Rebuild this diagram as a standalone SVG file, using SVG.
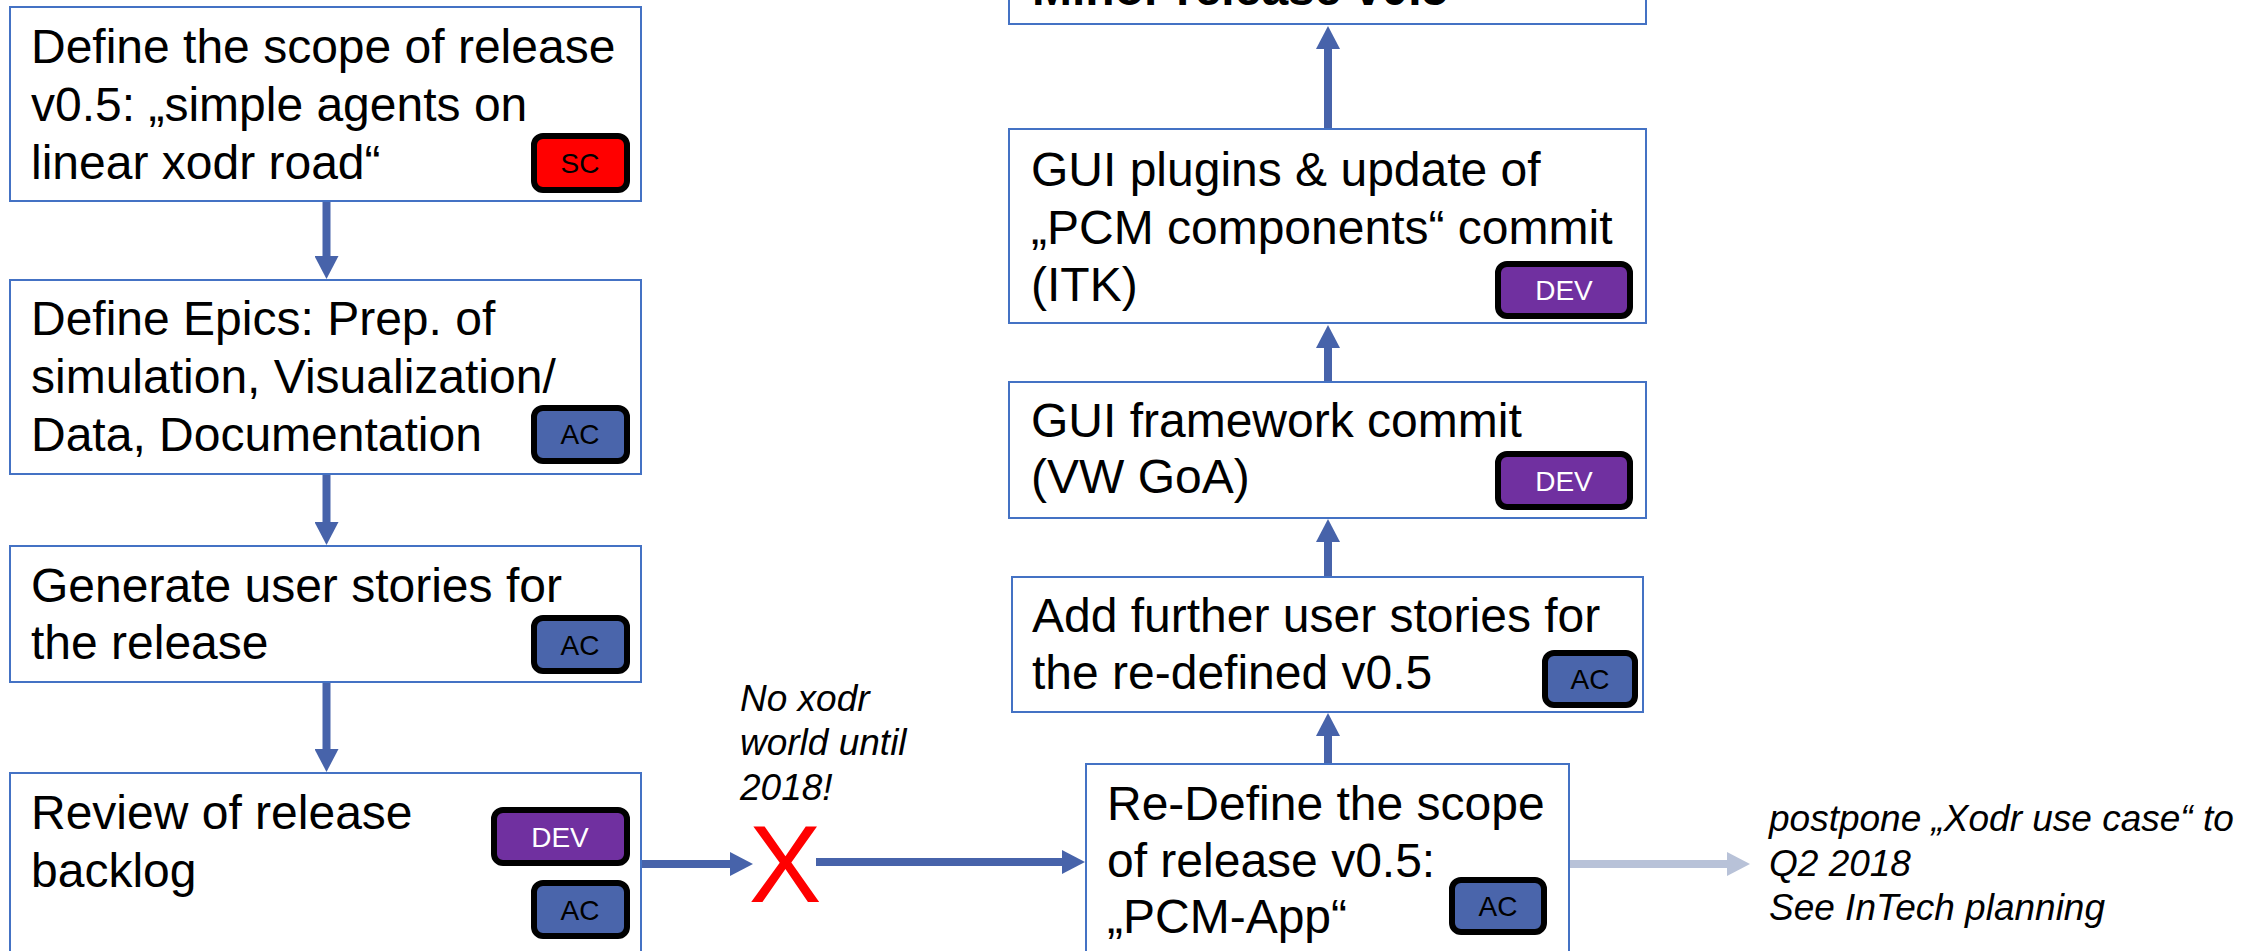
<svg xmlns="http://www.w3.org/2000/svg" width="2264" height="951" viewBox="0 0 2264 951">
<defs>
<style>
.box{fill:#fff;stroke:#4472C4;stroke-width:2}
.t{font-family:"Liberation Sans",Arial,sans-serif;font-size:48px;fill:#000}
.tb{font-family:"Liberation Sans",Arial,sans-serif;font-size:48px;font-weight:bold;fill:#000}
.it{font-family:"Liberation Sans",Arial,sans-serif;font-size:37px;font-style:italic;fill:#000}
.badge{stroke:#000;stroke-width:6}
.ac{fill:#4A65AB}
.dev{fill:#7030A0}
.sc{fill:#FF0000}
.bt{font-family:"Liberation Sans",Arial,sans-serif;font-size:28px;text-anchor:middle}
.conn{stroke:#4763AA;stroke-width:8;fill:none}
.gray{stroke:#B8C2D8;stroke-width:8;fill:none}
</style>
<marker id="ah" markerUnits="userSpaceOnUse" markerWidth="24" markerHeight="24" refX="3" refY="12" orient="auto" viewBox="0 0 24 24">
<path d="M0,0 L23,12 L0,24 z" fill="#4763AA"/>
</marker>
<marker id="ahg" markerUnits="userSpaceOnUse" markerWidth="24" markerHeight="24" refX="3" refY="12" orient="auto" viewBox="0 0 24 24">
<path d="M0,0 L23,12 L0,24 z" fill="#B8C2D8"/>
</marker>
</defs>
<rect width="2264" height="951" fill="#fff"/>

<g id="connectors">
<line class="conn" x1="326.5" y1="201" x2="326.5" y2="259" marker-end="url(#ah)"/>
<line class="conn" x1="326.5" y1="474" x2="326.5" y2="525" marker-end="url(#ah)"/>
<line class="conn" x1="326.5" y1="682" x2="326.5" y2="752" marker-end="url(#ah)"/>
<line class="conn" x1="641" y1="864" x2="733" y2="864" marker-end="url(#ah)"/>
<line class="conn" x1="816" y1="862" x2="1065" y2="862" marker-end="url(#ah)"/>
<line class="conn" x1="1328" y1="764" x2="1328" y2="733" marker-end="url(#ah)"/>
<line class="conn" x1="1328" y1="577" x2="1328" y2="539" marker-end="url(#ah)"/>
<line class="conn" x1="1328" y1="382" x2="1328" y2="345" marker-end="url(#ah)"/>
<line class="conn" x1="1328" y1="129" x2="1328" y2="46" marker-end="url(#ah)"/>
<line class="gray" x1="1569" y1="864" x2="1730" y2="864" marker-end="url(#ahg)"/>
</g>

<g id="node-scope">
<rect class="box" x="10" y="7" width="631" height="194"/>
<text class="t" x="31" y="63">Define the scope of release</text>
<text class="t" x="31" y="121">v0.5: „simple agents on</text>
<text class="t" x="31" y="179">linear xodr road“</text>
<rect class="badge sc" x="534" y="136" width="93" height="54" rx="9"/>
<text class="bt" x="580" y="173" fill="#000">SC</text>
</g>

<g id="node-epics">
<rect class="box" x="10" y="280" width="631" height="194"/>
<text class="t" x="31" y="335">Define Epics: Prep. of</text>
<text class="t" x="31" y="393">simulation, Visualization/</text>
<text class="t" x="31" y="451">Data, Documentation</text>
<rect class="badge ac" x="534" y="408" width="93" height="53" rx="9"/>
<text class="bt" x="580" y="444" fill="#000">AC</text>
</g>

<g id="node-stories">
<rect class="box" x="10" y="546" width="631" height="136"/>
<text class="t" x="31" y="602">Generate user stories for</text>
<text class="t" x="31" y="659">the release</text>
<rect class="badge ac" x="534" y="618" width="93" height="53" rx="9"/>
<text class="bt" x="580" y="655" fill="#000">AC</text>
</g>

<g id="node-review">
<rect class="box" x="10" y="773" width="631" height="200"/>
<text class="t" x="31" y="829">Review of release</text>
<text class="t" x="31" y="887">backlog</text>
<rect class="badge dev" x="494" y="810" width="133" height="53" rx="9"/>
<text class="bt" x="560" y="847" fill="#fff">DEV</text>
<rect class="badge ac" x="534" y="883" width="93" height="53" rx="9"/>
<text class="bt" x="580" y="920" fill="#000">AC</text>
</g>

<g id="node-x">
<text x="785" y="902" font-family="Liberation Sans, Arial, sans-serif" font-size="109" fill="#FF0000" text-anchor="middle">X</text>
<text class="it" x="740" y="711">No xodr</text>
<text class="it" x="740" y="755">world until</text>
<text class="it" x="740" y="800">2018!</text>
</g>

<g id="node-redefine">
<rect class="box" x="1086" y="764" width="483" height="210"/>
<text class="t" x="1107" y="820">Re-Define the scope</text>
<text class="t" x="1107" y="877">of release v0.5:</text>
<text class="t" x="1107" y="933">„PCM-App“</text>
<rect class="badge ac" x="1452" y="880" width="92" height="52" rx="9"/>
<text class="bt" x="1498" y="916" fill="#000">AC</text>
</g>

<g id="node-postpone">
<text class="it" x="1769" y="831">postpone „Xodr use case“ to</text>
<text class="it" x="1769" y="876">Q2 2018</text>
<text class="it" x="1769" y="920">See InTech planning</text>
</g>

<g id="node-further">
<rect class="box" x="1012" y="577" width="631" height="135"/>
<text class="t" x="1032" y="632">Add further user stories for</text>
<text class="t" x="1032" y="689">the re-defined v0.5</text>
<rect class="badge ac" x="1545" y="653" width="90" height="52" rx="9"/>
<text class="bt" x="1590" y="689" fill="#000">AC</text>
</g>

<g id="node-framework">
<rect class="box" x="1009" y="382" width="637" height="136"/>
<text class="t" x="1031" y="437">GUI framework commit</text>
<text class="t" x="1031" y="493">(VW GoA)</text>
<rect class="badge dev" x="1498" y="454" width="132" height="53" rx="9"/>
<text class="bt" x="1564" y="491" fill="#fff">DEV</text>
</g>

<g id="node-plugins">
<rect class="box" x="1009" y="129" width="637" height="194"/>
<text class="t" x="1031" y="186">GUI plugins &amp; update of</text>
<text class="t" x="1031" y="244">„PCM components“ commit</text>
<text class="t" x="1031" y="301">(ITK)</text>
<rect class="badge dev" x="1498" y="264" width="132" height="52" rx="9"/>
<text class="bt" x="1564" y="300" fill="#fff">DEV</text>
</g>

<g id="node-minor">
<rect class="box" x="1009" y="-200" width="637" height="224"/>
<text class="tb" x="1032" y="5">Minor release v0.5</text>
</g>
</svg>
